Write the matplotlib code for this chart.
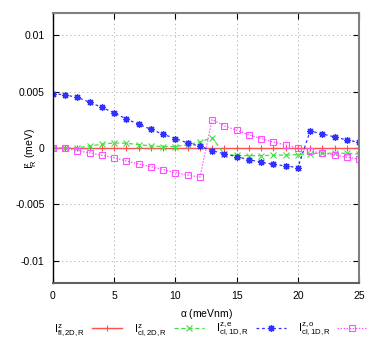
import numpy as np
import matplotlib as mpl
mpl.use("Agg")
import matplotlib.pyplot as plt

mpl.rcParams.update({"font.family": "Liberation Sans",
                     "mathtext.fontset": "custom",
                     "mathtext.rm": "Liberation Sans",
                     "mathtext.it": "Liberation Sans",
                     "font.size": 7.5,
                     "lines.scale_dashes": False,
                     "axes.unicode_minus": False})

alpha = np.arange(0, 26)

# I^z_fl,2D,R
fl_2d = [0.0] * 26
# I^z_cl,2D,R
cl_2d = [0.0, 0.0, 0.00002, 0.00018, 0.00033, 0.00045, 0.00042, 0.0003, 0.00018,
         0.00012, 0.00012, 0.0003, 0.00053, 0.00092, -0.00056, -0.00065, -0.00068,
         -0.00068, -0.00065, -0.00062, -0.0006, -0.0005, -0.00047, -0.00047,
         -0.00047, -0.00053]
# I^{z,e}_cl,1D,R
cl_1d_e = [0.00484, 0.00472, 0.00449, 0.00407, 0.0036, 0.00312, 0.00258, 0.00211,
           0.00166, 0.00122, 0.00084, 0.00045, 0.00015, -0.00023, -0.00053, -0.00077,
           -0.00103, -0.00127, -0.00145, -0.0016, -0.00174, 0.00151, 0.00125,
           0.00098, 0.00071, 0.00051]
# I^{z,o}_cl,1D,R
cl_1d_o = [0.0, -0.00002, -0.00023, -0.00044, -0.00065, -0.00086, -0.00116, -0.00142,
           -0.00166, -0.00192, -0.0022, -0.0024, -0.0026, 0.00253, 0.00196, 0.00158,
           0.00116, 0.00084, 0.00053, 0.00027, 0.0, -0.00027, -0.00047, -0.00062,
           -0.00083, -0.00098]

labels = [r'$\mathrm{I}^{\mathrm{z}}_{\mathrm{fl,2D,R}}$',
          r'$\mathrm{I}^{\mathrm{z}}_{\mathrm{cl,2D,R}}$',
          r'$\mathrm{I}^{\mathrm{z,e}}_{\mathrm{cl,1D,R}}$',
          r'$\mathrm{I}^{\mathrm{z,o}}_{\mathrm{cl,1D,R}}$']


def main():
    fig = plt.figure(figsize=(3.78, 3.41), dpi=100)
    ax = fig.add_axes([0.140, 0.170, 0.810, 0.792])

    ax.plot(alpha, fl_2d, color='#ff5050', ls='-', lw=1.0, marker='+', ms=5,
            mew=0.8, label=labels[0])
    ax.plot(alpha, cl_2d, color='#40e040', ls=(0, (3, 2)), lw=0.9, marker='x', ms=4.5,
            mew=0.8, label=labels[1])
    ax.plot(alpha, cl_1d_e, color='#3030ff', ls=(0, (2, 2)), lw=0.9, marker=(8, 2, 0),
            ms=5, mew=0.9, label=labels[2])
    ax.plot(alpha, cl_1d_o, color='#ff50ff', ls=(0, (1, 1.2)), lw=0.9, marker='s', ms=5,
            mfc='none', mew=0.8, label=labels[3])

    ax.set_xlim(0, 25)
    ax.set_ylim(-0.012, 0.012)
    ax.set_xticks([0, 5, 10, 15, 20, 25])
    ax.set_yticks([-0.01, -0.005, 0, 0.005, 0.01])
    ax.set_yticklabels(['-0.01', '-0.005', '0', '0.005', '0.01'])
    ax.tick_params(direction='in', top=True, right=True, length=4, width=0.8, pad=6,
                   color='black')
    ax.grid(True, color='#b0b0b0', ls=(0, (1, 2)), lw=0.6)

    for s in ['top', 'right']:
        ax.spines[s].set_color('#808080')
        ax.spines[s].set_linewidth(1.5)
    ax.spines['bottom'].set_color('#606060')
    ax.spines['bottom'].set_linewidth(1.5)
    ax.spines['left'].set_color('black')
    ax.spines['left'].set_linewidth(1.0)

    ax.set_xlabel(r'$\alpha$ (meVnm)', labelpad=4)
    ax.set_ylabel(r'$\mathrm{I}^{\mathrm{z}}_{\mathrm{R}}$ (meV)')
    ax.yaxis.set_label_coords(-0.045, 0.5)

    ax.legend(loc='center left', bbox_to_anchor=(0.143, 0.035),
              bbox_transform=fig.transFigure, ncol=4, frameon=False,
              markerfirst=False, handlelength=2.7, handletextpad=0.6,
              columnspacing=1.1, fontsize=8, borderpad=0, borderaxespad=0)

    fig.savefig('out.png', dpi=100)


if __name__ == '__main__':
    main()
